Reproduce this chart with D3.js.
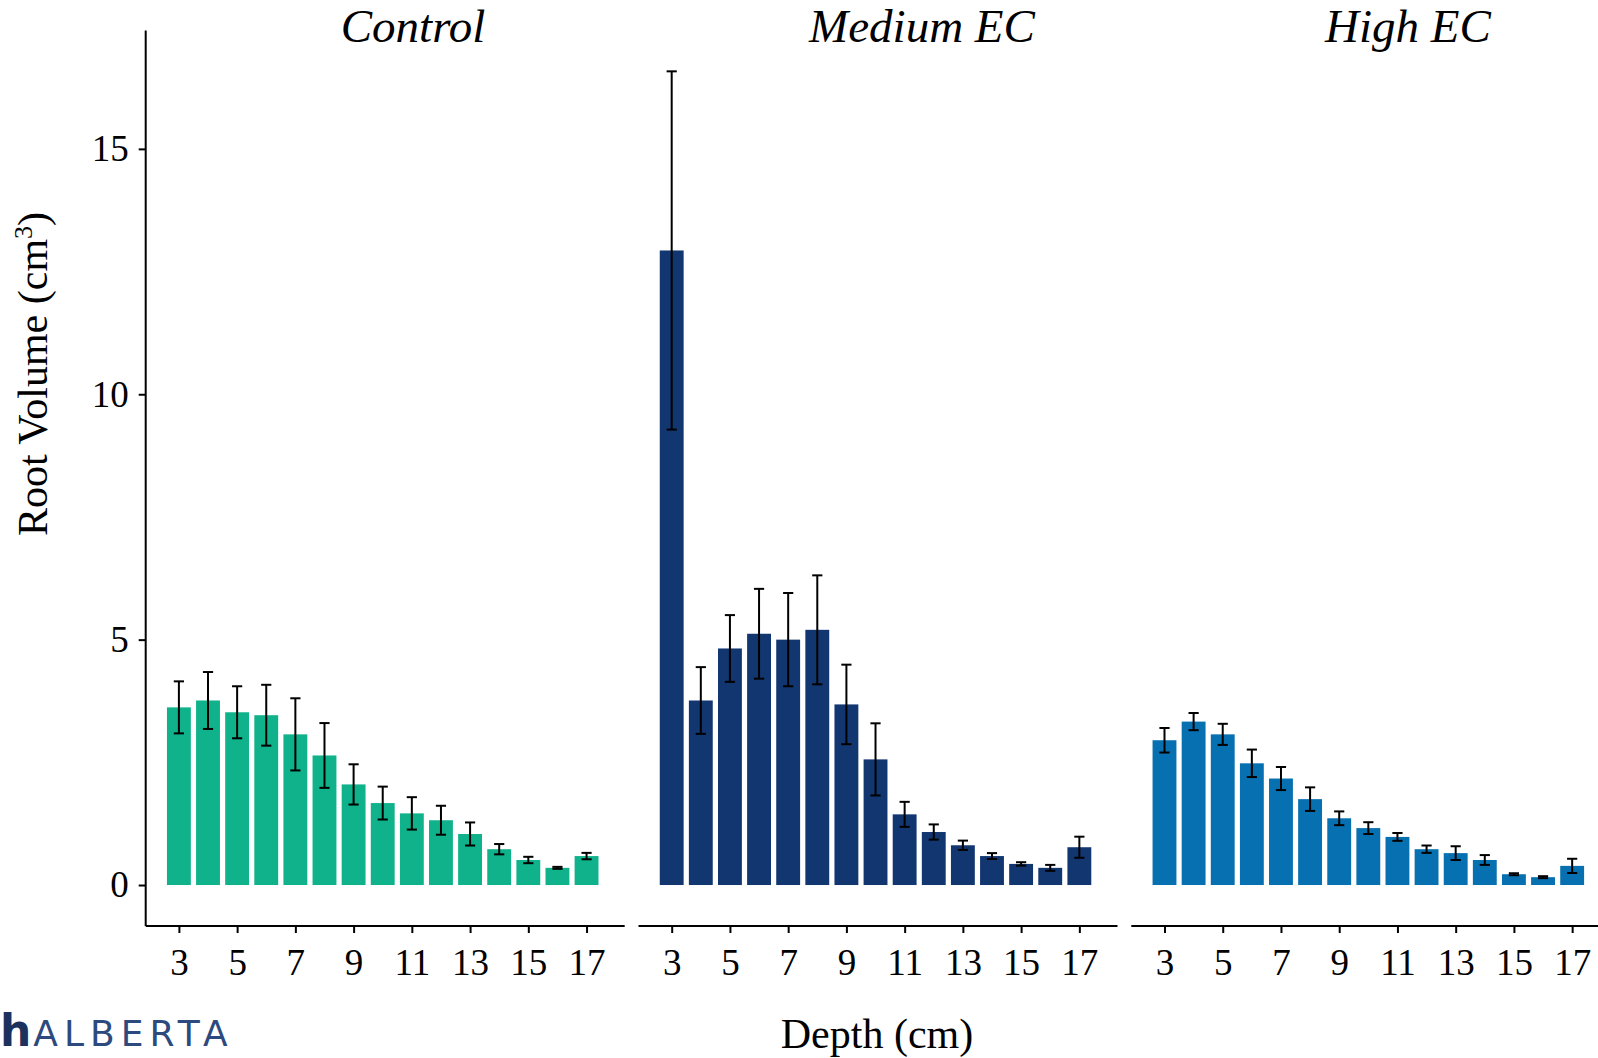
<!DOCTYPE html>
<html>
<head>
<meta charset="utf-8">
<script src="https://cdn.jsdelivr.net/npm/d3@7"></script>
<style>
  body { margin: 0; background: #fff; }
  svg { display: block; }
  text { font-family: "Liberation Serif", "Times New Roman", serif; fill: #000; }
</style>
</head>
<body>
<div class="chart"></div>
<script>
// depth positions (cm) and treatment panels
const depths = [3, 4, 5, 6, 7, 8, 9, 10, 11, 12, 13, 14, 15, 16, 17];
const panels = ["Control", "Medium EC", "High EC"];
const panelColors = ["#0fb28a", "#113670", "#0770b0"];
const depthTicks = [3, 5, 7, 9, 11, 13, 15, 17];
const volumeTicks = [0, 5, 10, 15];

// mean root volume and standard error
const controlMean = [3.62, 3.76, 3.52, 3.46, 3.07, 2.64, 2.05, 1.67, 1.46, 1.32, 1.04, 0.73, 0.51, 0.35, 0.59];
const controlSE   = [0.53, 0.58, 0.53, 0.62, 0.735, 0.66, 0.41, 0.335, 0.33, 0.295, 0.235, 0.105, 0.065, 0.02, 0.065];
const mediumMean  = [12.93, 3.76, 4.82, 5.12, 5.00, 5.20, 3.68, 2.56, 1.44, 1.08, 0.81, 0.59, 0.43, 0.35, 0.77];
const mediumSE    = [3.65, 0.68, 0.68, 0.915, 0.95, 1.11, 0.81, 0.735, 0.255, 0.155, 0.095, 0.06, 0.035, 0.06, 0.215];
const highMean    = [2.95, 3.33, 3.07, 2.48, 2.17, 1.75, 1.36, 1.16, 0.98, 0.73, 0.65, 0.51, 0.22, 0.16, 0.39];
const highSE      = [0.25, 0.175, 0.215, 0.28, 0.235, 0.24, 0.14, 0.12, 0.08, 0.075, 0.14, 0.10, 0.02, 0.02, 0.145];

const means = [controlMean, mediumMean, highMean];
const ses = [controlSE, mediumSE, highSE];

const width = 1598, height = 1058;
const svg = d3.select(".chart").append("svg")
  .attr("width", width)
  .attr("height", height);

// layout
const plotTop = 30.6, plotBottom = 926;
const panelLeft = [145.7, 638.5, 1131.3];
const panelWidth = 479;
const titleX = [413, 922, 1408];

const y = d3.scaleLinear().domain([-0.835, 17.41]).range([plotBottom, plotTop]);
const barW = 0.82, capW = 0.35;

panels.forEach((name, p) => {
  const x = d3.scaleLinear()
    .domain([1.86, 18.31])
    .range([panelLeft[p], panelLeft[p] + panelWidth]);

  const g = svg.append("g").attr("class", "panel");

  const rows = depths.map((d, i) => ({ depth: d, mean: means[p][i], se: ses[p][i] }));

  g.selectAll(".bar")
    .data(rows)
    .join("rect")
    .attr("class", "bar")
    .attr("x", d => x(d.depth - barW / 2))
    .attr("width", d => x(d.depth + barW / 2) - x(d.depth - barW / 2))
    .attr("y", d => y(d.mean))
    .attr("height", d => y(0) - y(d.mean))
    .attr("fill", panelColors[p]);

  // error bars
  const eb = g.selectAll(".err")
    .data(rows)
    .join("g")
    .attr("class", "err")
    .attr("stroke", "#000")
    .attr("stroke-width", 2);
  eb.append("line")
    .attr("x1", d => x(d.depth)).attr("x2", d => x(d.depth))
    .attr("y1", d => y(d.mean + d.se)).attr("y2", d => y(d.mean - d.se));
  eb.append("line")
    .attr("x1", d => x(d.depth - capW / 2)).attr("x2", d => x(d.depth + capW / 2))
    .attr("y1", d => y(d.mean + d.se)).attr("y2", d => y(d.mean + d.se));
  eb.append("line")
    .attr("x1", d => x(d.depth - capW / 2)).attr("x2", d => x(d.depth + capW / 2))
    .attr("y1", d => y(d.mean - d.se)).attr("y2", d => y(d.mean - d.se));

  // x axis
  const xAxis = g.append("g")
    .attr("transform", `translate(0,${plotBottom})`)
    .call(d3.axisBottom(x).tickValues(depthTicks).tickSize(7).tickPadding(16));
  xAxis.select(".domain").attr("stroke-width", 2).attr("d", `M${panelLeft[p]},0H${panelLeft[p] + panelWidth}`);
  xAxis.selectAll(".tick line").attr("stroke-width", 2);
  xAxis.selectAll(".tick text")
    .attr("font-size", 37)
    .attr("font-family", "Liberation Serif, Times New Roman, serif");

  // strip title
  svg.append("text")
    .attr("x", titleX[p])
    .attr("y", 42)
    .attr("text-anchor", "middle")
    .attr("font-size", 47)
    .attr("font-style", "italic")
    .text(name);
});

// y axis on the first panel
const yAxis = svg.append("g")
  .attr("transform", `translate(${panelLeft[0]},0)`)
  .call(d3.axisLeft(y).tickValues(volumeTicks).tickSize(7).tickPadding(10));
yAxis.select(".domain").attr("stroke-width", 2).attr("d", `M0,${plotTop}V${plotBottom}`);
yAxis.selectAll(".tick line").attr("stroke-width", 2);
yAxis.selectAll(".tick text")
  .attr("font-size", 37)
  .attr("font-family", "Liberation Serif, Times New Roman, serif");

// axis titles
svg.append("text")
  .attr("x", 877)
  .attr("y", 1048)
  .attr("text-anchor", "middle")
  .attr("font-size", 42)
  .text("Depth (cm)");

const yt = svg.append("text")
  .attr("transform", "translate(47,374) rotate(-90)")
  .attr("text-anchor", "middle")
  .attr("font-size", 42);
yt.append("tspan").text("Root Volume (cm");
yt.append("tspan").attr("font-size", 26).attr("dy", -15).text("3");
yt.append("tspan").attr("dy", 15).text(")");

// watermark at bottom left
const logo = svg.append("text")
  .attr("x", 0)
  .attr("y", 1046)
  .style("font-family", "'DejaVu Sans', sans-serif");
logo.append("tspan")
  .attr("font-size", 44)
  .attr("font-weight", 700)
  .attr("fill", "#1b315e")
  .text("h");
logo.append("tspan")
  .attr("font-size", 36)
  .attr("dx", 2)
  .attr("letter-spacing", 6)
  .attr("fill", "#2d4a7e")
  .text("ALBERTA");
</script>
</body>
</html>
